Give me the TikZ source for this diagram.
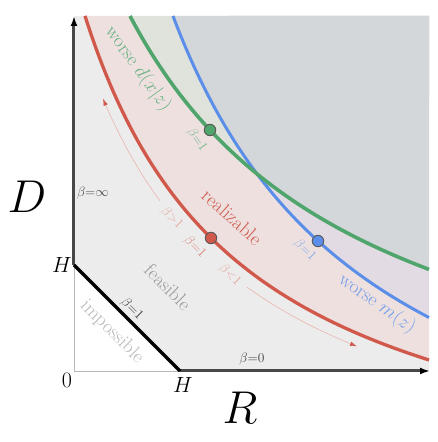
\RequirePackage{fix-cm}
\documentclass[tikz,border=0pt]{standalone}
\usetikzlibrary{arrows.meta}
\definecolor{cfeas}{HTML}{ECECEC}
\definecolor{cpink}{HTML}{EDE0DF}
\definecolor{cgreenf}{HTML}{E0E2DC}
\definecolor{clav}{HTML}{E2DBE3}
\definecolor{cboth}{HTML}{D3D7DA}
\definecolor{cred}{HTML}{D1594C}
\definecolor{cgreen}{HTML}{4FA56B}
\definecolor{cblue}{HTML}{5B8EE8}
\definecolor{axisgray}{HTML}{484848}
\begin{document}
\begin{tikzpicture}[x=10pt,y=10pt,
  bigtext/.style={font=\fontsize{19.5}{19.5}\selectfont, inner sep=0pt},
  betatext/.style={font=\fontsize{13.5}{13.5}\selectfont, inner sep=0pt},
  dot/.style={circle, draw=black!65, line width=0.9pt, minimum size=11.5pt, inner sep=0pt},
  axisline/.style={line width=3pt, draw=axisgray, -{Latex[length=10pt,width=7pt,color=black]}},
  thinarrow/.style={line width=0.6pt, draw=cred!45, -{Latex[length=7pt,width=4.5pt,color=cred]}}]
\useasboundingbox (-7.4,-7.1) rectangle (36.4,37.1);
% regions
\fill[cfeas] (0,0) rectangle (35.5,35.5);
\fill[white] (0,0) -- (0,10.6) -- (10.6,0) -- cycle;
\fill[cpink] plot[domain=1.1:35.5,samples=100] (\x,{806.56/(\x+14.9)-14.9}) -- (35.5,35.5) -- cycle;
\fill[cgreenf] plot[domain=5.6:35.5,samples=100] (\x,{1104.9/(\x+18.53)-10.29}) -- (35.5,35.5) -- cycle;
\fill[clav] plot[domain=9.9:35.5,samples=100] (\x,{1110.7/(\x+10.57)-18.76}) -- (35.5,35.5) -- cycle;
\begin{scope}
  \clip plot[domain=5.6:35.5,samples=100] (\x,{1104.9/(\x+18.53)-10.29}) -- (35.5,35.5) -- cycle;
  \fill[cboth] plot[domain=9.9:35.5,samples=100] (\x,{1110.7/(\x+10.57)-18.76}) -- (35.5,35.5) -- cycle;
\end{scope}
% curves
\draw[cred, line width=3.3pt] plot[domain=1.1:35.5,samples=100] (\x,{806.56/(\x+14.9)-14.9});
\draw[cblue, line width=3pt] plot[domain=9.9:35.5,samples=100] (\x,{1110.7/(\x+10.57)-18.76});
\draw[cgreen, line width=3.6pt] plot[domain=5.6:35.5,samples=100] (\x,{1104.9/(\x+18.53)-10.29});
% thin arrows
\draw[thinarrow] plot[domain=8.6:2.9,samples=40] (\x,{750/(\x+14.9)-14.9});
\draw[thinarrow] plot[domain=17.3:28.3,samples=40] (\x,{750/(\x+14.9)-14.9});
% axes and boundary
\coordinate (o) at (0,0);
\coordinate (hd) at (0,10.6);
\coordinate (hr) at (10.6,0);
\coordinate (dtop) at (0,35.5);
\coordinate (rend) at (35.6,0);
\draw[gray!55, line width=0.8pt] (hd) -- (o) -- (hr);
\draw[axisline] (hd) -- (dtop);
\draw[axisline] (hr) -- (rend);
\draw[black, line width=3.2pt] (hd) -- (hr);
% dots
\node[dot, fill=cred] (dr) at (13.7,13.3) {};
\node[dot, fill=cgreen] (dg) at (13.6,24.1) {};
\node[dot, fill=cblue] (db) at (24.4,13.0) {};
% labels
\node[font=\fontsize{46}{46}\selectfont] (lD) at (-4.7,17.4) {$D$};
\node[font=\fontsize{46}{46}\selectfont] (lR) at (16.6,-3.7) {$R$};
\node[font=\fontsize{22}{22}\selectfont] (lH1) at (-1.2,10.6) {$H$};
\node[font=\fontsize{22}{22}\selectfont] (lH2) at (10.9,-1.4) {$H$};
\node[font=\fontsize{22}{22}\selectfont] (l0) at (-0.7,-0.9) {$0$};
\node[bigtext, text=cgreen!85, rotate=-54] (lwd) at (6.4,30.2) {worse $d(x|z)$};
\node[bigtext, text=cred, rotate=-42] (lreal) at (15.8,15.4) {realizable};
\node[bigtext, text=cblue!85, rotate=-35] (lwm) at (30.3,6.7) {worse $m(z)$};
\node[bigtext, text=black!40, rotate=-45] (lfeas) at (9.4,8.4) {feasible};
\node[bigtext, text=black!28, rotate=-45] (limp) at (3.8,3.9) {impossible};
\node[betatext, text=cgreen!80, rotate=-55] (bg) at (12.3,23.1) {$\beta{=}1$};
\node[betatext, text=cred!55, rotate=-45] (bgt) at (9.8,15.3) {$\beta{>}1$};
\node[betatext, text=cred!75, rotate=-45] (bre) at (12.1,12.4) {$\beta{=}1$};
\node[betatext, text=cred!55, rotate=-45] (blt) at (15.6,9.6) {$\beta{<}1$};
\node[betatext, text=cblue!75, rotate=-45] (bbl) at (23.1,12.1) {$\beta{=}1$};
\node[betatext, text=black!80, rotate=-45] (bbk) at (5.8,6.2) {$\beta{=}1$};
\node[betatext, text=black!70] (binf) at (1.9,17.8) {$\beta{=}\infty$};
\node[betatext, text=black!75] (bzero) at (17.8,1.2) {$\beta{=}0$};
\end{tikzpicture}
\end{document}
